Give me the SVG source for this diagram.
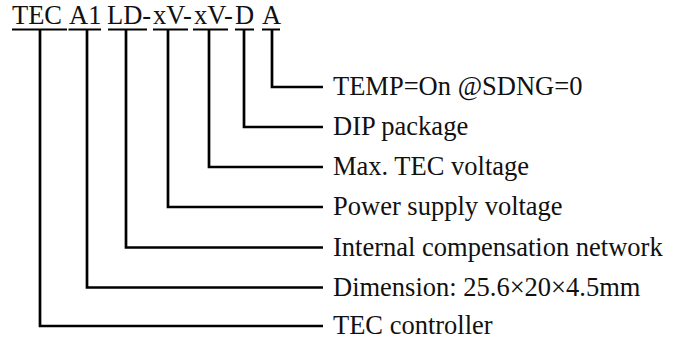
<svg xmlns="http://www.w3.org/2000/svg" width="679" height="339" viewBox="0 0 679 339">
<style>
text{font-family:"Liberation Serif","Times New Roman",serif;font-size:26.5px;fill:#111}
.ul{stroke:#000;stroke-width:2}
.c{fill:none;stroke:#000;stroke-width:2.7}
</style>
<rect width="679" height="339" fill="#fff"/>
<g id="code">
<text y="24"><tspan x="12">TEC</tspan><tspan x="69">A1</tspan><tspan x="107">LD-</tspan><tspan x="153">xV-</tspan><tspan x="194">xV-</tspan><tspan x="235">D</tspan><tspan x="262">A</tspan></text>
<line class="ul" x1="12" y1="29.5" x2="67" y2="29.5"/>
<line class="ul" x1="68.5" y1="29.5" x2="101" y2="29.5"/>
<line class="ul" x1="108" y1="29.5" x2="147" y2="29.5"/>
<line class="ul" x1="153" y1="29.5" x2="188" y2="29.5"/>
<line class="ul" x1="193" y1="29.5" x2="228" y2="29.5"/>
<line class="ul" x1="235" y1="29.5" x2="254" y2="29.5"/>
<line class="ul" x1="262" y1="29.5" x2="280" y2="29.5"/>
</g>
<g id="connectors">
<polyline class="c" points="272,30 272,87 323,87"/>
<polyline class="c" points="244,30 244,127 323,127"/>
<polyline class="c" points="209,30 209,167 323,167"/>
<polyline class="c" points="168,30 168,207 323,207"/>
<polyline class="c" points="126,30 126,247.5 323,247.5"/>
<polyline class="c" points="87,30 87,287.5 323,287.5"/>
<polyline class="c" points="40,30 40,326 323,326"/>
</g>
<g id="label-a"><text x="333" y="95">TEMP=On @SDNG=0</text></g>
<g id="label-d"><text x="333" y="135">DIP package</text></g>
<g id="label-v2"><text x="333" y="175">Max. TEC voltage</text></g>
<g id="label-v1"><text x="333" y="215">Power supply voltage</text></g>
<g id="label-ld"><text x="333" y="255.5">Internal compensation network</text></g>
<g id="label-a1"><text x="333" y="295.5">Dimension: 25.6×20×4.5mm</text></g>
<g id="label-tec"><text x="333" y="334">TEC controller</text></g>
</svg>
